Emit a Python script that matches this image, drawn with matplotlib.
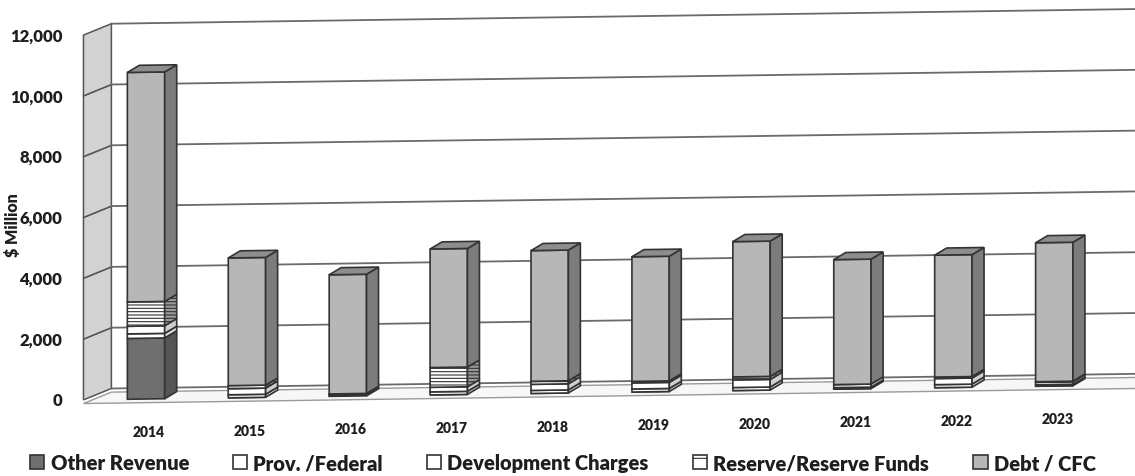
import matplotlib
matplotlib.use("Agg")
import matplotlib.pyplot as plt
from matplotlib.patches import Polygon, Patch
from matplotlib.transforms import Affine2D
import numpy as np

years = ["2014", "2015", "2016", "2017", "2018", "2019", "2020", "2021", "2022", "2023"]
other_revenue = [2000, 0, 30, 0, 0, 0, 0, 0, 0, 0]
prov_federal = [150, 100, 20, 100, 100, 100, 100, 50, 100, 50]
dev_charges = [250, 200, 30, 150, 200, 200, 250, 100, 200, 80]
reserve_funds = [800, 100, 0, 650, 100, 50, 100, 0, 50, 20]
debt_cfc = [7550, 4200, 3920, 3900, 4300, 4100, 4450, 4110, 4010, 4570]
y_ticks = [0, 2000, 4000, 6000, 8000, 10000, 12000]

series = [
    # label, values, front colour, side colour, hatch
    ("Other Revenue", other_revenue, "#6f6f6f", "#555555", None),
    ("Prov. /Federal", prov_federal, "#ffffff", "#d8d8d8", None),
    ("Development Charges", dev_charges, "#ffffff", "#cfcfcf", None),
    ("Reserve/Reserve Funds", reserve_funds, "#ffffff", "#9a9a9a", "-----"),
    ("Debt / CFC", debt_cfc, "#b7b7b7", "#7c7c7c", None),
]

plt.rcParams["font.family"] = ["Lato", "DejaVu Sans"]
plt.rcParams["hatch.color"] = "#9a9a9a"
plt.rcParams["hatch.linewidth"] = 0.8

fig = plt.figure(figsize=(11.35, 4.77), dpi=100)
ax = fig.add_axes([0, 0, 1, 1])
ax.set_xlim(-1.447, 9.80)
ax.set_ylim(-2533, 13158)
ax.axis("off")

# slight perspective: things further right sit a little higher
slope = 47.5
shear = Affine2D.from_values(1, slope, 0, 1, 0, 0) + ax.transData

x = np.arange(len(years))
width = 0.37
bar_dx, bar_dy = 0.119, 230      # bar depth
wall_dx, wall_dy = 0.277, 362    # back wall depth
x_left, x_right = -0.62, 9.85
edge = "#333333"

# floor
floor = Polygon([(x_left, -120), (x_right, -120), (x_right + wall_dx, wall_dy - 120),
                 (x_left + wall_dx, wall_dy - 120)],
                closed=True, facecolor="#f7f7f7", edgecolor="#9a9a9a", lw=1.0,
                transform=shear, zorder=0)
ax.add_patch(floor)

# left side wall, one panel per gridline band
for lo, hi in zip(y_ticks[:-1], y_ticks[1:]):
    panel = Polygon([(x_left, lo), (x_left + wall_dx, lo + wall_dy),
                     (x_left + wall_dx, hi + wall_dy), (x_left, hi)],
                    closed=True, facecolor="#d2d2d2", edgecolor="#555555", lw=1.1,
                    transform=shear, zorder=1)
    ax.add_patch(panel)

# back wall gridlines
for v in y_ticks:
    ax.plot([x_left + wall_dx, x_right + wall_dx], [v + wall_dy, v + wall_dy],
            color="#6a6a6a", lw=1.3, transform=shear, zorder=1)

# stacked bars with a side and top face
bottom = np.zeros(len(years))
handles = []
for label, vals, front, side, hatch in series:
    vals = np.array(vals, dtype=float)
    bars = ax.bar(x, vals, width=width, bottom=bottom, color=front, edgecolor=edge,
                  lw=1.2, hatch=hatch, zorder=3)
    for p in bars:
        p.set_transform(shear)
    for xi, b, h in zip(x, bottom, vals):
        if h <= 0:
            continue
        xr = xi + width / 2
        face = Polygon([(xr, b), (xr + bar_dx, b + bar_dy), (xr + bar_dx, b + h + bar_dy), (xr, b + h)],
                       closed=True, facecolor=side, edgecolor=edge, lw=1.2,
                       hatch=hatch, transform=shear, zorder=3)
        ax.add_patch(face)
    handles.append(Patch(facecolor=front, edgecolor=edge, lw=1.2,
                         hatch="-" if hatch else None, label=label))
    bottom = bottom + vals

# top faces
for xi, t in zip(x, bottom):
    xl = xi - width / 2
    top = Polygon([(xl, t), (xl + width, t), (xl + width + bar_dx, t + bar_dy), (xl + bar_dx, t + bar_dy)],
                  closed=True, facecolor="#8d8d8d", edgecolor=edge, lw=1.2,
                  transform=shear, zorder=3)
    ax.add_patch(top)

# axis labels
for v in y_ticks:
    ax.text(-0.83, v, f"{v:,}", ha="right", va="center", fontsize=12, fontweight="heavy",
            color="#1e1e1e", transform=shear)
ax.text(-1.32, 5800, "$ Million", rotation=90, ha="center", va="center", fontsize=11.5,
        fontweight="heavy", color="#1e1e1e", transform=shear)
for xi, yr in zip(x, years):
    ax.text(xi + 0.03, -1080, yr, ha="center", va="center", fontsize=10, fontweight="heavy",
            color="#1e1e1e", transform=shear)

leg = fig.legend(handles=handles, loc="center", bbox_to_anchor=(0.496, 0.028), ncol=5,
                 frameon=False, fontsize=14.5, handlelength=0.7, handleheight=0.7,
                 handletextpad=0.3, columnspacing=2.2, borderaxespad=0)
for t in leg.get_texts():
    t.set_fontweight("heavy")
    t.set_color("#1e1e1e")

fig.savefig("out.png", dpi=100)
